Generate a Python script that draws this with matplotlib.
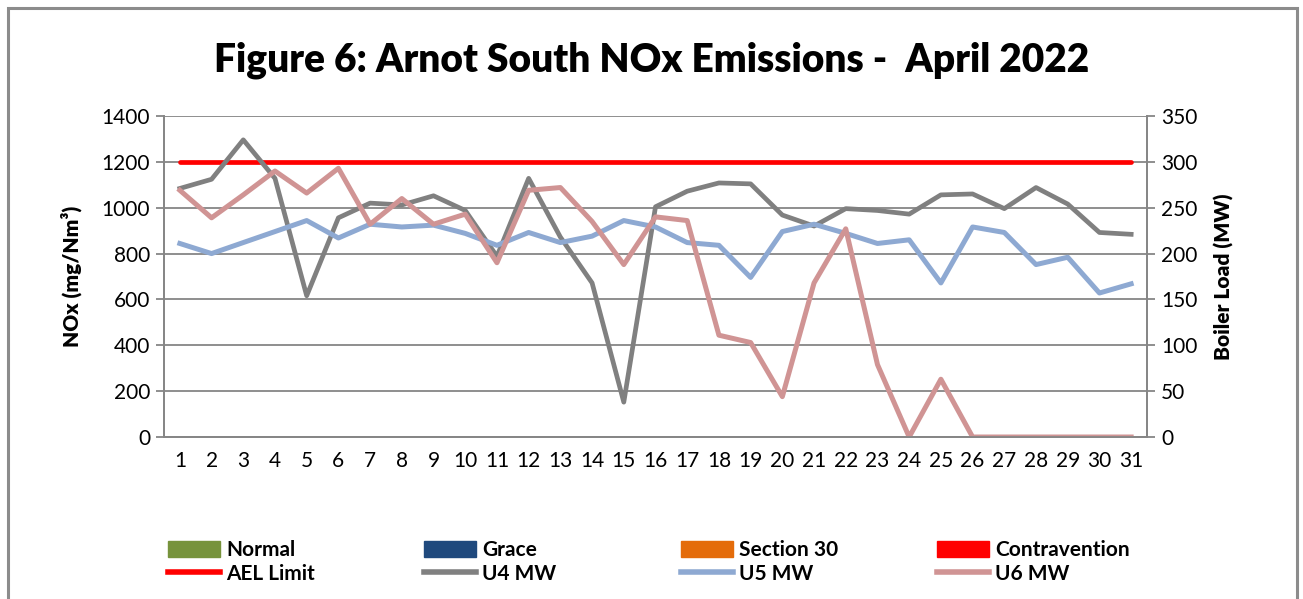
import matplotlib
matplotlib.use("Agg")
import matplotlib.pyplot as plt
from matplotlib.patches import Patch, Rectangle
from matplotlib.lines import Line2D

plt.rcParams['font.family'] = ['Lato', 'DejaVu Sans']

days = list(range(1, 32))
ael_limit = [1200] * 31
normal = [0] * 31
grace = [0] * 31
section30 = [0] * 31
contravention = [0] * 31

u4_mw = [271, 281, 324, 282, 154, 239, 255, 253, 263, 247, 197, 282, 218, 168, 38,
         251, 268, 277, 276, 242, 230, 249, 247, 243, 264, 265, 249, 272, 254, 223, 221]
u5_mw = [211, 200, 212, 224, 236, 217, 232, 229, 231, 222, 209, 223, 212, 219, 236,
         229, 212, 209, 174, 224, 232, 222, 211, 215, 168, 229, 223, 188, 196, 157, 167]
u6_mw = [269, 239, 264, 290, 266, 293, 232, 260, 232, 243, 190, 269, 272, 235, 188,
         240, 236, 111, 103, 44, 168, 227, 79, 0, 63, 0, 0, 0, 0, 0, 0]

grid_col = '#868686'
W, H = 1303, 599

fig = plt.figure(figsize=(W / 100, H / 100), dpi=100)
# outer chart border
fig.patches.append(Rectangle((8 / W, -0.05), 1289 / W, 1.05 - 8 / H,
                             transform=fig.transFigure, fill=False,
                             edgecolor='#8c8c8c', linewidth=2.2))

ax = fig.add_axes([164 / W, 1 - 437 / H, (1147 - 164) / W, (437 - 116) / H])
ax2 = ax.twinx()

# status bars (all zero this month)
w = 0.2
ax.bar([d - 1.5 * w for d in days], normal, w, color='#77933C')
ax.bar([d - 0.5 * w for d in days], grace, w, color='#1F497D')
ax.bar([d + 0.5 * w for d in days], section30, w, color='#E46C0A')
ax.bar([d + 1.5 * w for d in days], contravention, w, color='#FF0000')

ax.plot(days, ael_limit, color='#FF0000', linewidth=3.4, solid_capstyle='round', zorder=5)
ax2.plot(days, u4_mw, color='#808080', linewidth=3.4)
ax2.plot(days, u5_mw, color='#8EA9D2', linewidth=3.6)
ax2.plot(days, u6_mw, color='#D09494', linewidth=3.6)

ax.set_xlim(0.5, 31.5)
ax.set_ylim(0, 1400)
ax2.set_ylim(0, 350)
ax.set_yticks(range(0, 1401, 200))
ax2.set_yticks(range(0, 351, 50))
ax.set_xticks(days)
ax.set_xticklabels([str(d) for d in days])
ax.grid(axis='y', color=grid_col, linewidth=1.3)
ax.set_axisbelow(True)

for a in (ax, ax2):
    a.spines['top'].set_visible(False)
    for side in ('left', 'right', 'bottom'):
        a.spines[side].set_color(grid_col)
        a.spines[side].set_linewidth(1.3)
    a.tick_params(axis='y', labelsize=15, length=6, color=grid_col, width=1.3, pad=4)
ax.tick_params(axis='x', labelsize=15, length=0, pad=10)

ax.set_ylabel('NOx (mg/Nm³)', fontsize=15, fontweight='heavy', labelpad=14)
ax2.set_ylabel('Boiler Load (MW)', fontsize=15, fontweight='heavy', labelpad=12)

fig.text(0.5, 1 - 60 / H, 'Figure 6: Arnot South NOx Emissions -  April 2022',
         ha='center', va='center', fontsize=28, fontweight='heavy')

# legend: four evenly spaced columns, two rows each
columns = [
    (168, Patch(color='#77933C'), 'Normal', Line2D([], [], color='#FF0000', linewidth=4), 'AEL Limit'),
    (424, Patch(color='#1F497D'), 'Grace', Line2D([], [], color='#808080', linewidth=4), 'U4 MW'),
    (681, Patch(color='#E46C0A'), 'Section 30', Line2D([], [], color='#8EA9D2', linewidth=4), 'U5 MW'),
    (937, Patch(color='#FF0000'), 'Contravention', Line2D([], [], color='#D09494', linewidth=4), 'U6 MW'),
]
for x0, h1, l1, h2, l2 in columns:
    fig.legend([h1, h2], [l1, l2], loc='center left',
               bbox_to_anchor=(x0 / W, 1 - 562 / H), frameon=False,
               borderaxespad=0, borderpad=0,
               prop={'size': 15, 'weight': 'bold'}, handlelength=2.5, handleheight=0.8,
               handletextpad=0.3, labelspacing=0.2)

fig.savefig('out.png', dpi=100)
